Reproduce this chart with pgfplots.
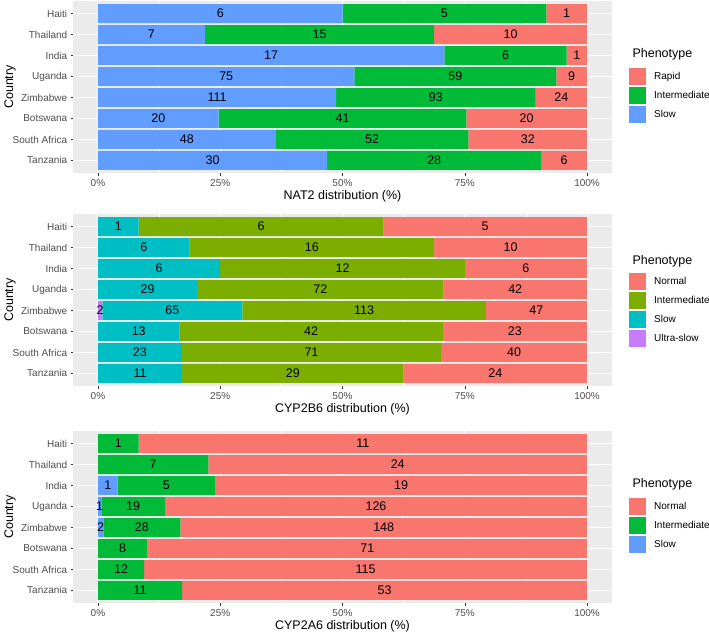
\documentclass[border=0pt]{standalone}
\usepackage{pgfplots}
\pgfplotsset{compat=1.18}
\usepackage{fontspec}
\setmainfont{Liberation Sans}

\definecolor{panel}{RGB}{235,235,235}
\definecolor{ticklab}{RGB}{77,77,77}
\definecolor{tickcol}{RGB}{51,51,51}
\definecolor{cRed}{HTML}{F8766D}
\definecolor{cGreen}{HTML}{00BA38}
\definecolor{cBlue}{HTML}{619CFF}
\definecolor{cOlive}{HTML}{7CAE00}
\definecolor{cCyan}{HTML}{00BFC4}
\definecolor{cPurple}{HTML}{C77CFF}

\tikzset{ttl/.style={anchor=west, font=\fontsize{12.5}{15}\selectfont}}

\pgfplotsset{
  box/.style={
    scale only axis, width=538pt, height=172pt,
    xmin=-5, xmax=105, ymin=0.4, ymax=8.6, y dir=reverse,
  },
  gg/.style={
    box, clip mode=individual,
    axis background/.style={fill=panel},
    axis line style={draw=none},
    xtick={0,25,50,75,100},
    xticklabels={0\%,25\%,50\%,75\%,100\%},
    minor xtick={12.5,37.5,62.5,87.5},
    ytick={1,...,8},
    yticklabels={Haiti,Thailand,India,Uganda,Zimbabwe,Botswana,South Africa,Tanzania},
    xmajorgrids, xminorgrids, ymajorgrids,
    major grid style={white, line width=1.07pt},
    minor grid style={white, line width=0.53pt},
    tick align=outside, xtick pos=lower, ytick pos=left,
    major tick length=2.75pt, minor tick length=0pt,
    tick style={tickcol, line width=0.5pt},
    ticklabel style={font=\fontsize{10}{12}\selectfont, text=ticklab},
    every axis x label/.style={at={([yshift=-23pt]axis description cs:0.5,0)}, anchor=center,
      font=\fontsize{12.5}{15}\selectfont},
    every axis y label/.style={at={([xshift=-63.5pt]axis description cs:0,0.5)}, rotate=90, anchor=center,
      font=\fontsize{12.5}{15}\selectfont},
    ylabel={Country},
    xbar stacked, bar width=0.9,
    legend image code/.code={\fill[##1] (0pt,-8.5pt) rectangle (17pt,8.5pt); \path (25pt,0pt);},
    reverse legend, legend cell align=left,
    legend style={draw=none, fill=none, inner sep=0pt, row sep=2pt,
      at={(1,1)}, anchor=north west, xshift=17.5pt, yshift=-67pt,
      nodes={inner sep=0pt, anchor=west, font=\fontsize{10}{12}\selectfont}},
  },
  labs/.style={box, hide axis},
  lab/.style={draw=none, mark=none, nodes near coords, point meta=explicit symbolic,
    every node near coord/.style={anchor=center, black, font=\fontsize{12.5}{15}\selectfont}},
}

\begin{document}
\begin{tikzpicture}
\path[use as bounding box] (0,0) rectangle (709pt,-634pt);

% ---- NAT2
\begin{axis}[gg, at={(73.5pt,-1pt)}, anchor=north west, xlabel={NAT2 distribution (\%)}]
\addplot[fill=cBlue, draw=none] coordinates {(50,1) (21.875,2) (70.833,3) (52.448,4) (48.684,5) (24.691,6) (36.364,7) (46.875,8)};
\addlegendentry{Slow}
\addplot[fill=cGreen, draw=none] coordinates {(41.667,1) (46.875,2) (25,3) (41.259,4) (40.789,5) (50.617,6) (39.394,7) (43.75,8)};
\addlegendentry{Intermediate}
\addplot[fill=cRed, draw=none] coordinates {(8.333,1) (31.25,2) (4.167,3) (6.294,4) (10.526,5) (24.691,6) (24.242,7) (9.375,8)};
\addlegendentry{Rapid}
\node[ttl] at ([xshift=17.5pt,yshift=-53.5pt]axis description cs:1,1) {Phenotype};
\end{axis}
\begin{axis}[labs, at={(73.5pt,-1pt)}, anchor=north west]
\addplot[lab] coordinates {
 (25,1)[6] (70.833,1)[5] (95.833,1)[1]
 (10.938,2)[7] (45.313,2)[15] (84.375,2)[10]
 (35.417,3)[17] (83.333,3)[6] (97.917,3)[1]
 (26.224,4)[75] (73.077,4)[59] (96.853,4)[9]
 (24.342,5)[111] (69.079,5)[93] (94.737,5)[24]
 (12.346,6)[20] (50,6)[41] (87.654,6)[20]
 (18.182,7)[48] (56.061,7)[52] (87.879,7)[32]
 (23.438,8)[30] (68.75,8)[28] (95.313,8)[6]};
\end{axis}

% ---- CYP2B6
\begin{axis}[gg, at={(73.5pt,-214pt)}, anchor=north west, xlabel={CYP2B6 distribution (\%)},
  legend style={yshift=8pt}]
\addplot[fill=cPurple, draw=none] coordinates {(0,1) (0,2) (0,3) (0,4) (0.881,5) (0,6) (0,7) (0,8)};
\addlegendentry{Ultra-slow}
\addplot[fill=cCyan, draw=none] coordinates {(8.333,1) (18.75,2) (25,3) (20.280,4) (28.634,5) (16.667,6) (17.164,7) (17.188,8)};
\addlegendentry{Slow}
\addplot[fill=cOlive, draw=none] coordinates {(50,1) (50,2) (50,3) (50.350,4) (49.780,5) (53.846,6) (52.985,7) (45.313,8)};
\addlegendentry{Intermediate}
\addplot[fill=cRed, draw=none] coordinates {(41.667,1) (31.25,2) (25,3) (29.371,4) (20.705,5) (29.487,6) (29.851,7) (37.5,8)};
\addlegendentry{Normal}
\node[ttl] at ([xshift=17.5pt,yshift=-47.5pt]axis description cs:1,1) {Phenotype};
\end{axis}
\begin{axis}[labs, at={(73.5pt,-214pt)}, anchor=north west]
\addplot[lab] coordinates {
 (4.167,1)[1] (33.333,1)[6] (79.167,1)[5]
 (9.375,2)[6] (43.75,2)[16] (84.375,2)[10]
 (12.5,3)[6] (50,3)[12] (87.5,3)[6]
 (10.14,4)[29] (45.455,4)[72] (85.315,4)[42]
 (0.441,5)[2] (15.198,5)[65] (54.405,5)[113] (89.648,5)[47]
 (8.333,6)[13] (43.59,6)[42] (85.256,6)[23]
 (8.582,7)[23] (43.657,7)[71] (85.075,7)[40]
 (8.594,8)[11] (39.844,8)[29] (81.25,8)[24]};
\end{axis}

% ---- CYP2A6
\begin{axis}[gg, at={(73.5pt,-431pt)}, anchor=north west, xlabel={CYP2A6 distribution (\%)}]
\addplot[fill=cBlue, draw=none] coordinates {(0,1) (0,2) (4,3) (0.685,4) (1.124,5) (0,6) (0,7) (0,8)};
\addlegendentry{Slow}
\addplot[fill=cGreen, draw=none] coordinates {(8.333,1) (22.581,2) (20,3) (13.014,4) (15.730,5) (10.127,6) (9.449,7) (17.188,8)};
\addlegendentry{Intermediate}
\addplot[fill=cRed, draw=none] coordinates {(91.667,1) (77.419,2) (76,3) (86.301,4) (83.146,5) (89.873,6) (90.551,7) (82.813,8)};
\addlegendentry{Normal}
\node[ttl] at ([xshift=17.5pt,yshift=-53.5pt]axis description cs:1,1) {Phenotype};
\end{axis}
\begin{axis}[labs, at={(73.5pt,-431pt)}, anchor=north west]
\addplot[lab] coordinates {
 (4.167,1)[1] (54.167,1)[11]
 (11.29,2)[7] (61.29,2)[24]
 (2,3)[1] (14,3)[5] (62,3)[19]
 (0.342,4)[1] (7.192,4)[19] (56.849,4)[126]
 (0.562,5)[2] (8.989,5)[28] (58.427,5)[148]
 (5.063,6)[8] (55.063,6)[71]
 (4.724,7)[12] (54.724,7)[115]
 (8.594,8)[11] (58.594,8)[53]};
\end{axis}
\end{tikzpicture}
\end{document}
